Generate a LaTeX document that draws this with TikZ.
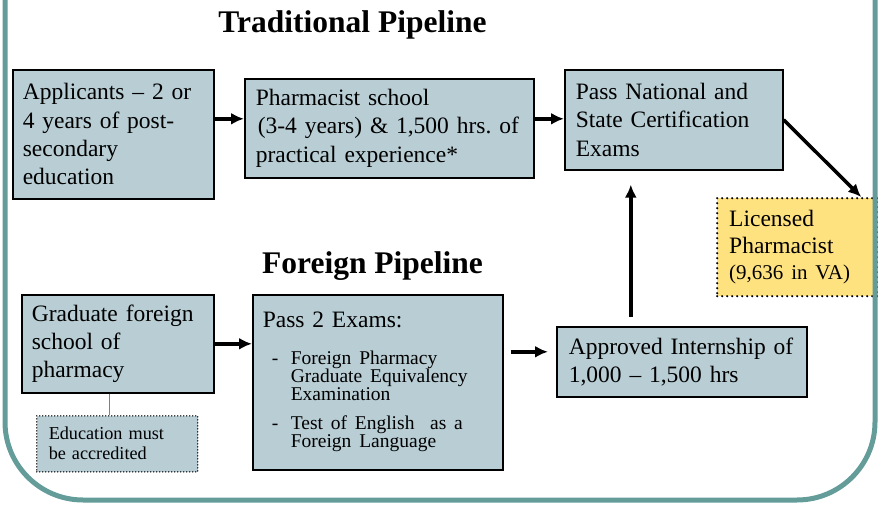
\documentclass[tikz,border=0pt]{standalone}
\usepackage{fontspec}
\setmainfont{Liberation Serif}
\usetikzlibrary{arrows.meta}
\frenchspacing
\definecolor{boxfill}{RGB}{184,205,212}
\definecolor{licfill}{RGB}{255,226,128}
\definecolor{frameteal}{RGB}{99,156,153}
\begin{document}
\begin{tikzpicture}[x=1pt,y=-1pt,
  stepbox/.style={draw=black,line width=1.6pt,fill=boxfill,anchor=north west,
    inner xsep=10pt,inner ysep=0pt,align=left,font=\fontsize{23.5}{28.3}\selectfont},
  notebox/.style={stepbox,line width=1.5pt,dash pattern=on 0pt off 3pt,line cap=round,
    font=\fontsize{18.2}{20}\selectfont},
  goalbox/.style={stepbox,fill=licfill,line width=2.4pt,dash pattern=on 0pt off 5pt,
    line cap=round,inner xsep=12pt,font=\fontsize{23.5}{26.5}\selectfont},
  heading/.style={anchor=base,font=\bfseries\fontsize{31.5}{36}\selectfont},
  flow/.style={-{Latex[length=13pt,width=12pt]},line width=3.5pt}]
\useasboundingbox (0,0) rectangle (878,508);

% headings
\node[heading] (trad) at (352.5,33) {Traditional Pipeline};
\node[heading] (forgn) at (372.5,273) {Foreign Pipeline};

% traditional pipeline
\node[stepbox,minimum width=201pt,minimum height=129pt,text width=181pt] (app) at (12,69)
  {Applicants -- 2 or\\4 years of post-\\secondary\\education};
\node[stepbox,minimum width=289pt,minimum height=99pt,text width=269pt] (school) at (244,78)
  {\hspace*{1pt}Pharmacist school\\\hspace*{3pt}(3-4 years) \& 1,500 hrs. of\\\hspace*{1pt}practical experience*};
\node[stepbox,minimum width=218pt,minimum height=100pt,text width=198pt] (pass) at (564,69)
  {\hspace*{1pt}Pass National and\\\hspace*{1pt}State Certification\\\hspace*{1pt}Exams};
\node[goalbox,minimum width=161pt,minimum height=98pt,text width=137pt] (lic) at (716,197)
  {Licensed\\Pharmacist\\{\fontsize{21}{26.5}\selectfont(9,636 in VA)}};

% foreign pipeline
\node[stepbox,minimum width=192pt,minimum height=98pt,text width=172pt] (grad) at (21,294)
  {Graduate foreign\\school of\\pharmacy};
\node[notebox,minimum width=161pt,minimum height=56pt,text width=141pt] (note) at (36,415)
  {\hspace*{2pt}Education must\\\hspace*{2pt}be accredited};
\node[stepbox,minimum width=250pt,minimum height=175pt,text width=230pt] (pass2) at (252,294)
  {\noindent Pass 2 Exams:\par\vspace{19pt}
   {\fontsize{19.5}{18}\selectfont\leftskip=28pt
    \noindent\llap{\makebox[19pt][l]{-}}Foreign Pharmacy\newline Graduate Equivalency\newline Examination\par
    \vspace{11pt}
    \noindent\llap{\makebox[19pt][l]{-}}Test of English\ \ as a\newline Foreign Language\par}};
\node[stepbox,minimum width=250pt,minimum height=70pt,text width=230pt] (intern) at (556,326)
  {\hspace*{2pt}Approved Internship of\\\hspace*{2pt}1,000 -- 1,500 hrs};

% connectors
\draw[flow] ([yshift=15.5pt]app.east) -- ([yshift=15.5pt]app.east -| school.west);
\draw[flow] ([yshift=9.5pt]school.east) -- ([yshift=9.5pt]school.east -| pass.west);
\draw[flow] (pass.east) -- ([xshift=63.5pt]lic.north);
\draw[flow,shorten <=9pt,shorten >=14pt] ([xshift=-51pt]intern.north) -- ([xshift=-51pt]intern.north |- pass.south);
\draw[flow] (grad.east) -- (grad.east -| pass2.west);
\draw[flow,shorten <=7pt,shorten >=8pt] ([yshift=10pt]intern.west -| pass2.east) -- ([yshift=10pt]intern.west);
\draw[gray,line width=1pt] ([xshift=-8pt]grad.south) -- ([xshift=-8pt]grad.south |- note.north);

% frame
\draw[frameteal,line width=5pt,rounded corners=78pt] (5,0) -- (5,500) -- (875,500) -- (875,0);
\end{tikzpicture}
\end{document}
